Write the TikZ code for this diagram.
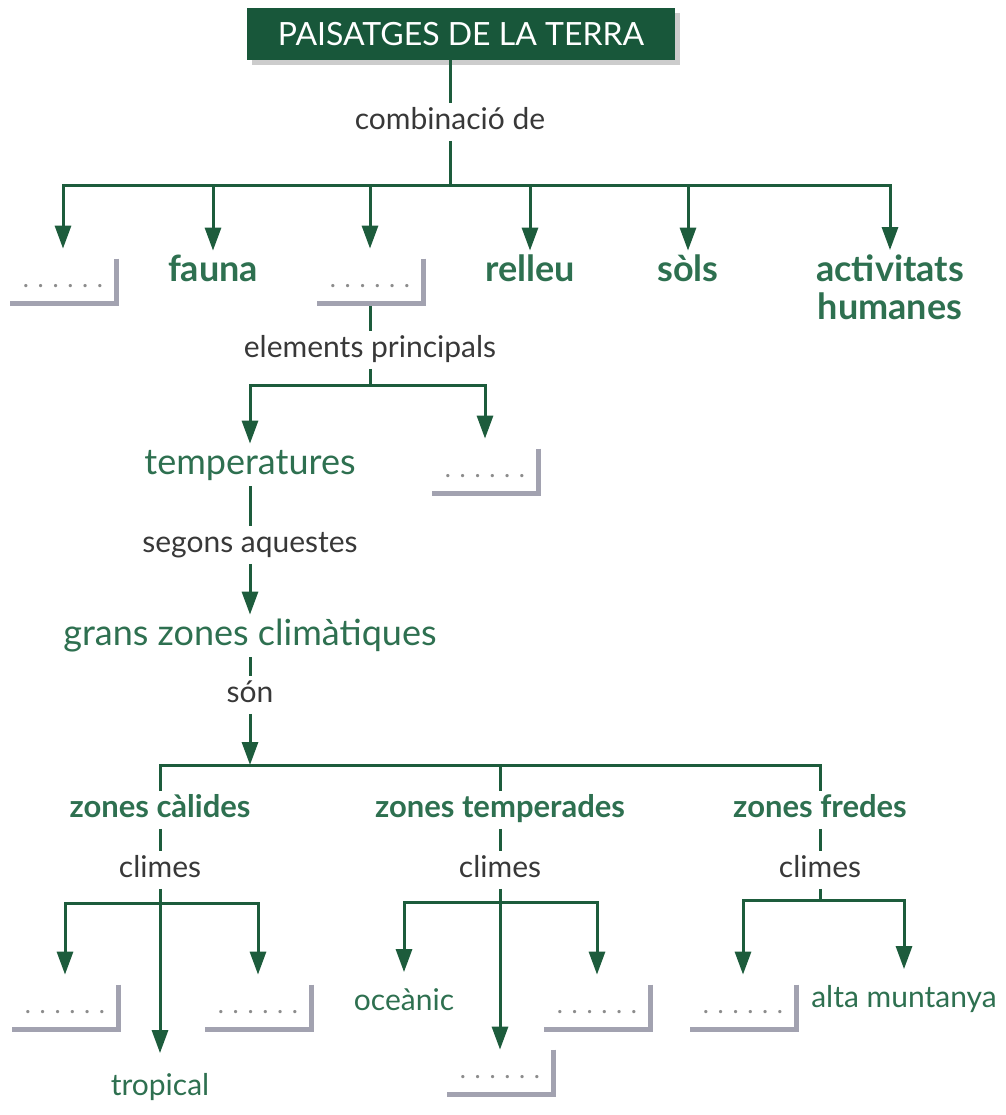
\documentclass[tikz,border=0pt]{standalone}
\usepackage{fontspec}
\setmainfont{Lato}
\usetikzlibrary{arrows.meta,shadows}
\definecolor{kverd}{HTML}{1D5C3C}
\definecolor{ktext}{HTML}{2E7050}
\definecolor{ktitol}{HTML}{18573A}
\definecolor{kombra}{HTML}{A2A2B0}
\newcommand{\kpunts}{.\,\,.\,\,.\,\,.\,\,.\,\,.}
\tikzset{
  lin/.style={draw=kverd, line width=1.5pt},
  fle/.style={lin, -{Triangle[length=11.5pt,width=8pt]}},
  titol/.style={fill=ktitol, text=white, font=\fontsize{16}{18}\selectfont,
    minimum width=214pt, minimum height=26pt, inner sep=0pt,
    drop shadow={shadow xshift=2.5pt, shadow yshift=-2.5pt, fill=black!40}},
  nivell2/.style={font=\fontsize{18}{19}\selectfont\bfseries, text=ktext, inner sep=2pt, align=center},
  nivell/.style={nivell2, text height=13pt, text depth=4pt},
  terme/.style={font=\fontsize{18}{20}\selectfont, text=ktext, inner sep=2pt, text height=13pt, text depth=4pt},
  zona/.style={font=\fontsize{15.5}{17}\selectfont\bfseries, text=ktext, inner sep=2pt, text height=11pt, text depth=3.5pt},
  fulla/.style={font=\fontsize{15}{17}\selectfont, text=ktext, inner sep=2pt, text height=11pt, text depth=3.5pt},
  enllac/.style={font=\fontsize{15}{17}\selectfont, text=black!78, inner sep=2pt, text height=11pt, text depth=3.5pt},
  buit/.style={fill=white, text=black!45, font=\fontsize{13}{15}\selectfont,
    minimum width=53pt, minimum height=22pt, inner sep=0pt, text height=6pt, text depth=0pt},
  ombra/.style={draw=kombra, line width=2.8pt},
}
\begin{document}
\begin{tikzpicture}[x=0.5pt,y=-0.5pt]
\useasboundingbox (0,0) rectangle (1006,1115);
% title and first level
\node[titol] (titol) at (461,34) {PAISATGES DE LA TERRA};
\node[enllac] (comb) at (450,122) {combinació de};
\coordinate (bar1) at (450,185);
\draw[lin] (titol.south -| comb) -- (comb);
\draw[lin] (comb) -- (bar1);
\foreach \n/\x/\t in {fauna/213/fauna,relleu/530/relleu,sols/688/sòls}{\node[nivell] (\n) at (\x,272) {\t};}
\node[nivell2] (humanes) at (890,287) {activitats\\humanes};
\foreach \n/\x in {b1/63,b2/370}{\node[buit] (\n) at (\x,281) {\kpunts};}
\foreach \n in {fauna,relleu,sols,humanes}{\draw[fle] (bar1) -| (\n);}
\foreach \n in {b1,b2}{\draw[fle,shorten >=5pt] (bar1) -| (\n);}
% elements
\node[enllac] (elem) at (370,350) {elements principals};
\coordinate (bar2) at (370,385);
\draw[lin] (b2) -- (elem);
\draw[lin] (elem) -- (bar2);
\node[terme] (temp) at (250,465) {temperatures};
\node[buit] (b3) at (485,471) {\kpunts};
\draw[fle] (bar2) -| (temp);
\draw[fle,shorten >=5pt] (bar2) -| (b3);
\node[enllac] (seg) at (250,545) {segons aquestes};
\node[terme] (gzc) at (250,636) {grans zones climàtiques};
\node[enllac] (son) at (250,695) {són};
\coordinate (bar3) at (250,765);
\draw[lin] (temp) -- (seg);
\draw[fle] (seg) -- (gzc);
\draw[lin] (gzc) -- (son);
\draw[fle] (son) -- (bar3);
% zones
\foreach \n/\x/\t in {zc/160/zones càlides,zt/500/zones temperades,zf/820/zones fredes}{\node[zona] (\n) at (\x,810) {\t};}
\draw[lin] (zc) |- (bar3) -| (zf);
\draw[lin] (zt) -- (zt |- bar3);
\foreach \n/\z/\x in {cl1/zc/160,cl2/zt/500,cl3/zf/820}{
  \node[enllac] (\n) at (\x,870) {climes};
  \draw[lin] (\z) -- (\n);
}
% climes
\coordinate (bar4) at (160,903);
\coordinate (bar5) at (500,902);
\coordinate (bar6) at (820,900);
\node[fulla] (trop) at (160,1088) {tropical};
\node[fulla] (oce) at (404,1003) {oceànic};
\node[fulla] (alta) at (904,1000) {alta muntanya};
\foreach \n/\x/\y in {b4/65/1007,b5/258/1007,b7/597/1007,b8/500/1072,b9/743/1007}{\node[buit] (\n) at (\x,\y) {\kpunts};}
\draw[fle,shorten >=8pt] (cl1) -- (trop);
\draw[fle] (cl2) -- (b8);
\draw[lin] (cl3) -- (bar6);
\foreach \b/\n in {bar4/b4,bar4/b5,bar5/b7,bar6/b9}{\draw[fle,shorten >=5pt] (\b) -| (\n);}
\draw[fle,shorten >=6pt] (bar5) -| (oce);
\draw[fle,shorten >=6pt] (bar6) -| (alta);
\foreach \n in {b1,b2,b3,b4,b5,b7,b8,b9}{\draw[ombra] (\n.north east) -- (\n.south east) -- (\n.south west);}
\end{tikzpicture}
\end{document}
